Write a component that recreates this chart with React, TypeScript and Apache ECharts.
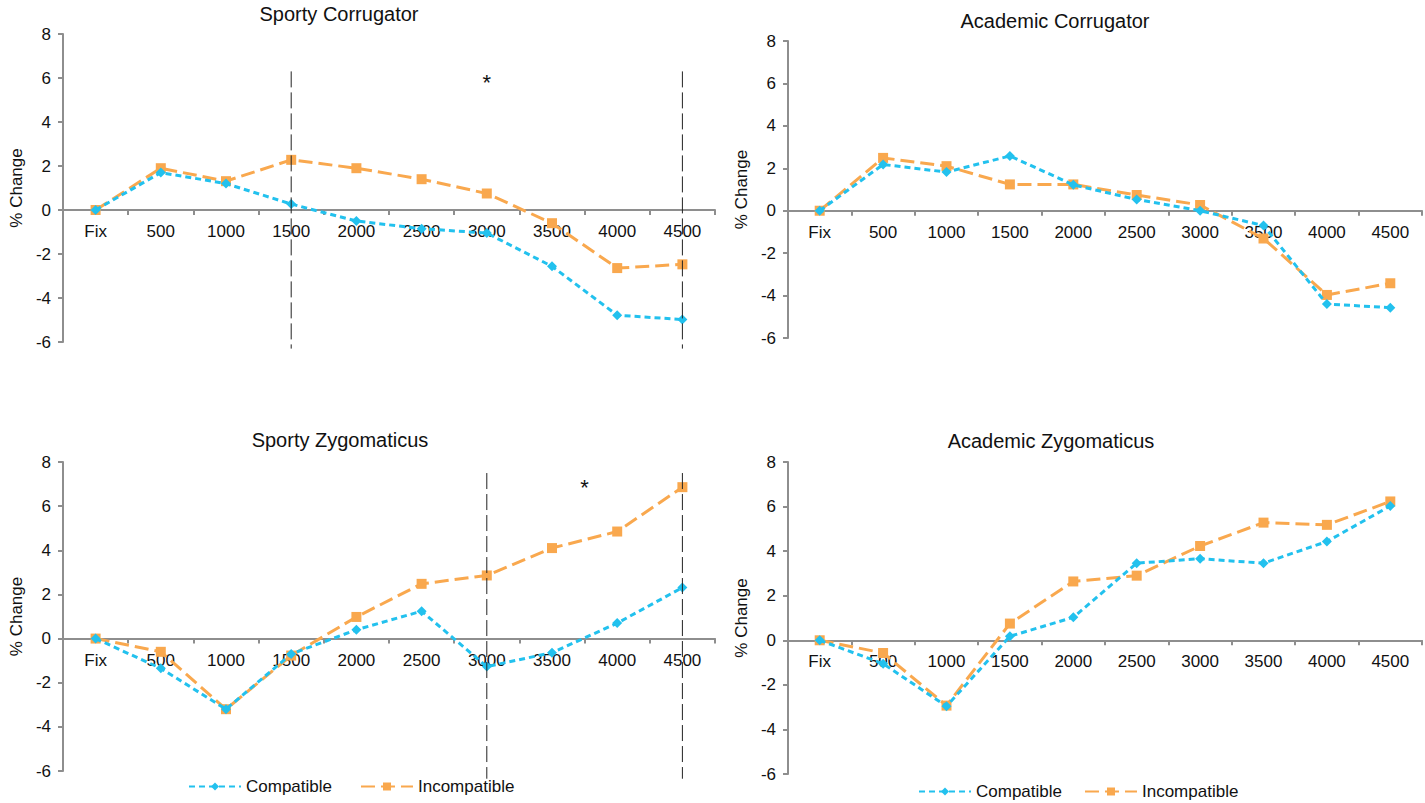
import React, { useEffect, useRef } from "react";
import * as echarts from "echarts";

const categories = ["Fix", "500", "1000", "1500", "2000", "2500", "3000", "3500", "4000", "4500"];
const yTicks = { min: -6, max: 8, interval: 2 };

const sportyCorrCompatible = [0, 1.7, 1.2, 0.27, -0.5, -0.85, -1.05, -2.56, -4.78, -4.98];
const sportyCorrIncompatible = [0, 1.9, 1.31, 2.28, 1.9, 1.4, 0.75, -0.6, -2.64, -2.47];
const academicCorrCompatible = [0, 2.18, 1.82, 2.58, 1.22, 0.53, 0, -0.7, -4.4, -4.57];
const academicCorrIncompatible = [0, 2.49, 2.1, 1.24, 1.24, 0.74, 0.27, -1.31, -3.97, -3.42];
const sportyZygCompatible = [0, -1.35, -3.2, -0.7, 0.4, 1.24, -1.27, -0.64, 0.7, 2.31];
const sportyZygIncompatible = [0, -0.6, -3.2, -0.77, 0.98, 2.48, 2.86, 4.1, 4.85, 6.86];
const academicZygCompatible = [0, -1.05, -2.96, 0.18, 1.03, 3.46, 3.66, 3.46, 4.43, 6.03];
const academicZygIncompatible = [0, -0.57, -2.93, 0.75, 2.64, 2.9, 4.23, 5.28, 5.18, 6.23];

const panelTitles = ["Sporty Corrugator", "Academic Corrugator", "Sporty Zygomaticus", "Academic Zygomaticus"];
const seriesNames = ["Compatible", "Incompatible"];

// Vertical dashed reference lines: [panel index, category, top value, bottom value]
const refLines: [number, string, number, number][] = [
  [0, "1500", 6.3, -6.3],
  [0, "4500", 6.3, -6.3],
  [2, "3000", 7.5, -6.35],
  [2, "4500", 7.5, -6.35],
];
// Significance asterisks: [panel, category from, category to, value]
const asterisks: [number, string, string, number][] = [
  [0, "3000", "3000", 5.8],
  [2, "3500", "4000", 6.85],
];

const BLUE = "#22c1ee";
const ORANGE = "#f9a84e";
const AXIS = "#8e8e8e";
const FONT = "Liberation Sans, Arial, sans-serif";

const grids = [
  { left: 63, top: 34, width: 652, height: 308 },
  { left: 788, top: 41, width: 634, height: 297 },
  { left: 63, top: 462, width: 652, height: 309 },
  { left: 788, top: 462, width: 634, height: 312 },
];
const titlePos = [
  { x: 339, y: 4 },
  { x: 1055, y: 11 },
  { x: 340, y: 430 },
  { x: 1051, y: 431 },
];

export default function App() {
  const ref = useRef<HTMLDivElement>(null);
  useEffect(() => {
    if (!ref.current) return;
    const chart = echarts.init(ref.current, undefined, { renderer: "svg" });
    const panels = [
      [sportyCorrCompatible, sportyCorrIncompatible],
      [academicCorrCompatible, academicCorrIncompatible],
      [sportyZygCompatible, sportyZygIncompatible],
      [academicZygCompatible, academicZygIncompatible],
    ];
    const series: any[] = [];
    panels.forEach((p, i) => {
      series.push({
        type: "line",
        name: seriesNames[0],
        xAxisIndex: i,
        yAxisIndex: i,
        data: p[0],
        symbol: "diamond",
        symbolSize: 10,
        itemStyle: { color: BLUE },
        lineStyle: { color: BLUE, width: 3, type: [6, 4] },
        z: 3,
      });
      series.push({
        type: "line",
        name: seriesNames[1],
        xAxisIndex: i,
        yAxisIndex: i,
        data: p[1],
        symbol: "rect",
        symbolSize: 10,
        itemStyle: { color: ORANGE },
        lineStyle: { color: ORANGE, width: 3, type: [14, 6] },
        z: 2,
      });
    });
    // x axis sits on y = 0: offset computed from the y scale extent
    const zeroFrac = (0 - yTicks.min) / (yTicks.max - yTicks.min);
    const option: any = {
      animation: false,
      backgroundColor: "#ffffff",
      textStyle: { fontFamily: FONT },
      title: panelTitles.map((t, i) => ({
        text: t,
        left: titlePos[i].x,
        top: titlePos[i].y,
        textAlign: "center",
        padding: 0,
        textStyle: { fontSize: 20, fontWeight: "normal", color: "#111", fontFamily: FONT },
      })),
      legend: [
        {
          data: seriesNames,
          left: 188,
          top: 778,
          padding: 0,
          itemWidth: 52,
          itemHeight: 10,
          itemGap: 28,
          textStyle: { fontSize: 17, color: "#111", fontFamily: FONT },
        },
        {
          data: seriesNames,
          left: 918,
          top: 783,
          padding: 0,
          itemWidth: 52,
          itemHeight: 10,
          itemGap: 22,
          textStyle: { fontSize: 17, color: "#111", fontFamily: FONT },
        },
      ],
      grid: grids.map((g) => ({ ...g, containLabel: false })),
      xAxis: grids.map((g, i) => ({
        type: "category",
        gridIndex: i,
        data: categories,
        boundaryGap: true,
        position: "bottom",
        offset: -g.height * zeroFrac,
        axisLine: { onZero: false, lineStyle: { color: AXIS, width: 2 } },
        axisTick: { show: true, interval: 0, length: 5, lineStyle: { color: AXIS, width: 2 } },
        axisLabel: { interval: 0, fontSize: 17, color: "#111", margin: 13, fontFamily: FONT },
        splitLine: { show: false },
      })),
      yAxis: grids.map((_, i) => ({
        type: "value",
        gridIndex: i,
        min: yTicks.min,
        max: yTicks.max,
        interval: yTicks.interval,
        name: "% Change",
        nameLocation: "middle",
        nameGap: 38,
        nameTextStyle: { fontSize: 17, color: "#111", fontFamily: FONT },
        axisLine: { show: true, lineStyle: { color: AXIS, width: 2 } },
        axisTick: { show: true, length: 5, lineStyle: { color: AXIS, width: 2 } },
        axisLabel: { fontSize: 17, color: "#111", margin: 12, fontFamily: FONT },
        splitLine: { show: false },
      })),
      series,
    };
    chart.setOption(option);

    const graphics: any[] = [];
    refLines.forEach(([p, cat, top, bottom]) => {
      const x = chart.convertToPixel({ xAxisIndex: p }, cat) as number;
      const y1 = chart.convertToPixel({ yAxisIndex: p }, top) as number;
      const y2 = chart.convertToPixel({ yAxisIndex: p }, bottom) as number;
      graphics.push({
        type: "line",
        shape: { x1: x, y1, x2: x, y2 },
        style: { stroke: "#222", lineWidth: 1, lineDash: [16, 5] },
        z: 10,
      });
    });
    asterisks.forEach(([p, c1, c2, v]) => {
      const xa = chart.convertToPixel({ xAxisIndex: p }, c1) as number;
      const xb = chart.convertToPixel({ xAxisIndex: p }, c2) as number;
      const y = chart.convertToPixel({ yAxisIndex: p }, v) as number;
      graphics.push({
        type: "text",
        x: (xa + xb) / 2,
        y,
        style: { text: "*", fontSize: 22, fill: "#111", align: "center", verticalAlign: "middle", fontFamily: FONT },
        z: 10,
      });
    });
    chart.setOption({ graphic: graphics });

    return () => chart.dispose();
  }, []);
  return (
    <div
      ref={ref}
      style={{ position: "absolute", left: 0, top: 0, width: 1425, height: 803, background: "#fff" }}
    />
  );
}
